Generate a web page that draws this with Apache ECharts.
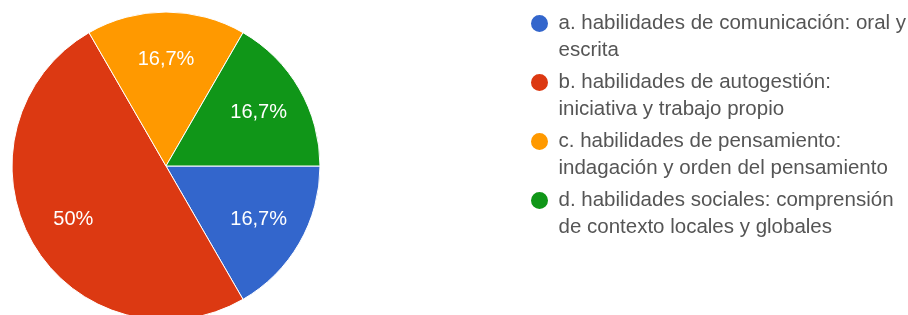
<!DOCTYPE html>
<html lang="es">
<head>
    <meta charset="UTF-8">
    <title>Habilidades</title>
    <style>
        html, body { margin: 0; padding: 0; background: #fff; }
        #main { width: 908px; height: 315px; }
    </style>
</head>
<body>
<div id="main"></div>
<script src="https://cdn.jsdelivr.net/npm/echarts@6/dist/echarts.min.js"></script>
<script type="text/javascript">
    // datos
    var categorias = [
        'a. habilidades de comunicación: oral y escrita',
        'b. habilidades de autogestión: iniciativa y trabajo propio',
        'c. habilidades de pensamiento: indagación y orden del pensamiento',
        'd. habilidades sociales: comprensión de contexto locales y globales'
    ];
    // texto de la leyenda en dos líneas
    var lineas = [
        ['a. habilidades de comunicación: oral y', 'escrita'],
        ['b. habilidades de autogestión:', 'iniciativa y trabajo propio'],
        ['c. habilidades de pensamiento:', 'indagación y orden del pensamiento'],
        ['d. habilidades sociales: comprensión', 'de contexto locales y globales']
    ];
    var valores = [1, 3, 1, 1];
    var colores = ['#3366cc', '#dc3912', '#ff9900', '#109618'];

    var total = 0;
    for (var i = 0; i < valores.length; i++) total += valores[i];

    var datos = [];
    var datosEtiqueta = [];
    for (var i = 0; i < categorias.length; i++) {
        datos.push({name: categorias[i], value: valores[i], itemStyle: {color: colores[i]}});
        datosEtiqueta.push({name: categorias[i], value: valores[i]});
    }

    function pct(v) {
        var p = Math.round(v / total * 1000) / 10;
        return String(p).replace('.', ',') + '%';
    }

    var fuente = 'Liberation Sans, Arial, sans-serif';

    var myChart = echarts.init(document.getElementById('main'));
    var option = {
        animation: false,
        legend: {
            orient: 'vertical',
            left: 524,
            top: -22,
            icon: 'circle',
            itemWidth: 28,
            itemHeight: 19,
            itemGap: -22,
            selectedMode: false,
            data: categorias,
            formatter: function (name) {
                var k = categorias.indexOf(name);
                // línea vacía arriba: así la primera línea queda junto al círculo
                return '\n' + lineas[k].join('\n');
            },
            textStyle: {
                fontFamily: fuente,
                fontSize: 20.5,
                color: '#555',
                lineHeight: 27
            }
        },
        series: [
            {
                type: 'pie',
                center: [166, 166],
                radius: [0, 154],
                startAngle: 0,
                clockwise: true,
                silent: true,
                label: {show: false},
                labelLine: {show: false},
                itemStyle: {borderColor: '#fff', borderWidth: 1},
                data: datos
            },
            {
                // capa sólo para colocar los porcentajes
                type: 'pie',
                center: [166, 166],
                radius: [54, 154],
                startAngle: 0,
                clockwise: true,
                silent: true,
                z: 3,
                itemStyle: {color: 'transparent', borderWidth: 0},
                label: {
                    show: true,
                    position: 'inside',
                    color: '#fff',
                    fontFamily: fuente,
                    fontSize: 20,
                    formatter: function (p) { return pct(p.value); }
                },
                labelLine: {show: false},
                data: datosEtiqueta
            }
        ]
    };
    myChart.setOption(option);
</script>
</body>
</html>
